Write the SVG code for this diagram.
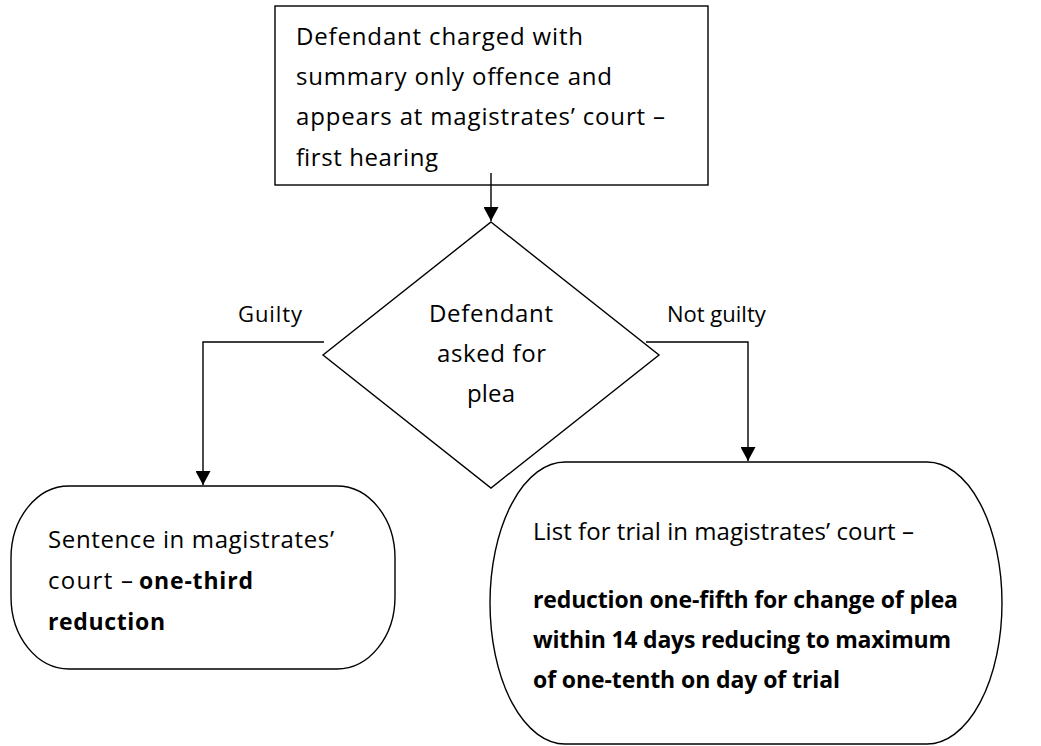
<svg xmlns="http://www.w3.org/2000/svg" width="1041" height="746" viewBox="0 0 1041 746">
<style>
.shape{fill:#fff;stroke:#000;stroke-width:1.4}
.line{fill:none;stroke:#000;stroke-width:1.4}
text{font-family:"Open Sans","Noto Sans","Liberation Sans",sans-serif;font-size:24px;fill:#000}
.b{font-weight:bold;font-size:23px}
.s{font-size:22px}
</style>
<defs>
<marker id="arr" markerWidth="15" markerHeight="15" refX="14" refY="7.5" orient="auto" markerUnits="userSpaceOnUse">
<path d="M0,0 L14,7.5 L0,15 Z" fill="#000"/>
</marker>
</defs>
<rect width="1041" height="746" fill="#fff"/>
<g id="start">
<rect class="shape" x="275" y="6" width="433" height="179"/>
<text x="296" y="45" textLength="287">Defendant charged with</text>
<text x="296" y="85" textLength="316">summary only offence and</text>
<text x="296" y="125" textLength="369">appears at magistrates’ court –</text>
<text x="296" y="166" textLength="142">first hearing</text>
</g>
<g id="decision">
<polygon class="shape" points="491,222 659,355 491,488 323,355"/>
<text x="429" y="322" textLength="124">Defendant</text>
<text x="437" y="362" textLength="109">asked for</text>
<text x="467" y="402" textLength="48">plea</text>
</g>
<g id="guilty">
<rect class="shape" x="11" y="486" width="384" height="183" rx="58" ry="72"/>
<text x="48" y="548" textLength="286">Sentence in magistrates’</text>
<text x="48" y="589" textLength="85">court –</text>
<text x="139" y="589" class="b" textLength="114">one-third</text>
<text x="48" y="630" class="b" textLength="117">reduction</text>
</g>
<g id="notguilty">
<rect class="shape" x="490" y="462" width="512" height="282" rx="75" ry="141"/>
<text x="533" y="540" textLength="381">List for trial in magistrates’ court –</text>
<text x="533" y="608" class="b" textLength="425">reduction one-fifth for change of plea</text>
<text x="533" y="648" class="b" textLength="418">within 14 days reducing to maximum</text>
<text x="533" y="688" class="b" textLength="307">of one-tenth on day of trial</text>
</g>
<g id="connectors">
<line class="line" x1="491" y1="173" x2="491" y2="221" marker-end="url(#arr)"/>
<polyline class="line" points="324,342 203,342 203,485" marker-end="url(#arr)"/>
<polyline class="line" points="646,342 748,342 748,461" marker-end="url(#arr)"/>
<text x="238" y="322" class="s" textLength="64">Guilty</text>
<text x="667" y="322" class="s">Not guilty</text>
</g>
</svg>
